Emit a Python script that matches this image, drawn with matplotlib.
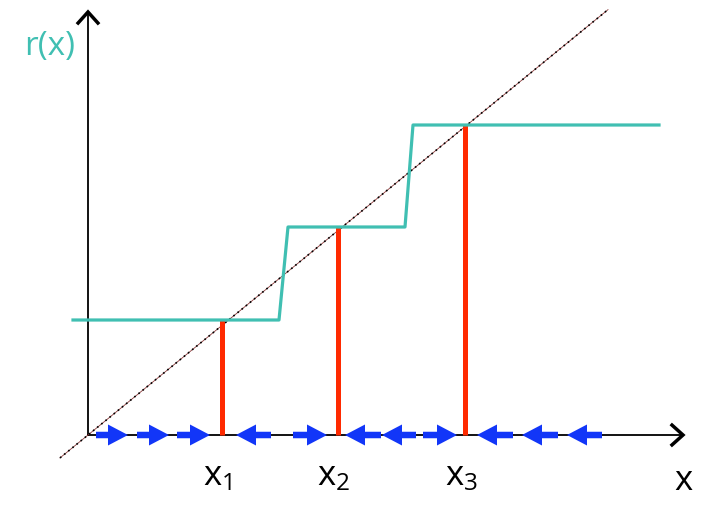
import matplotlib
matplotlib.use("Agg")
import matplotlib.pyplot as plt
import numpy as np

plt.rcParams['font.family'] = ['Open Sans', 'DejaVu Sans']
plt.rcParams['mathtext.fontset'] = 'custom'
plt.rcParams['mathtext.rm'] = 'Open Sans'

# step function r(x): vertices of the teal curve
step_x = [-15, 191, 200, 317, 325, 571]
step_y = [115, 115, 208, 208, 310, 310]

# fixed points x1, x2, x3 (red drop lines)
fixed_x = [134, 250, 377]
fixed_y = [115, 208, 310]
fixed_labels = ['$\\mathregular{x_1}$', '$\\mathregular{x_2}$', '$\\mathregular{x_3}$']

# flow arrows on the x axis: tail -> head
arrow_tail = [8, 49, 89, 183, 205, 293, 328, 335, 425, 470, 514]
arrow_head = [40, 81, 122, 148, 239, 257, 294, 369, 389, 434, 479]

# diagonal r(x) = x (slope in drawing units)
diag_x = [-28, 520]
diag_slope = 0.818

x_axis_end = 595
y_axis_end = 423

teal = '#40BFB2'
red = '#FF2A00'
blue = '#1236F8'

fig = plt.figure(figsize=(7.06, 5.05), dpi=100)
ax = fig.add_axes([0, 0, 1, 1])
ax.set_xlim(-88, 618)
ax.set_ylim(-70, 435)
ax.axis('off')

# axes lines
ax.plot([0, x_axis_end], [0, 0], color='black', lw=1.3, zorder=2)
ax.plot([0, 0], [0, y_axis_end], color='black', lw=1.3, zorder=2)
# chevron heads
hl = 11
ax.plot([x_axis_end - hl, x_axis_end, x_axis_end - hl], [hl * 0.9, 0, -hl * 0.9],
        color='black', lw=2.5, solid_joinstyle='miter', zorder=2)
ax.plot([-hl * 0.9, 0, hl * 0.9], [y_axis_end - hl, y_axis_end, y_axis_end - hl],
        color='black', lw=2.5, solid_joinstyle='miter', zorder=2)

# diagonal
dx = np.array(diag_x)
ax.plot(dx, diag_slope * dx, color='#8B3A3A', lw=0.6, zorder=3)
ax.plot(dx, diag_slope * dx, color='black', lw=1.2, ls=(0, (1, 2.2)), zorder=3)

# step function
ax.plot(step_x, step_y, color=teal, lw=2.3, zorder=4)

# red lines
for fx, fy in zip(fixed_x, fixed_y):
    ax.plot([fx, fx], [0, fy], color=red, lw=3.6, zorder=3, solid_capstyle='butt')

# blue arrows
for t, h in zip(arrow_tail, arrow_head):
    ax.arrow(t, 0, h - t, 0, width=6.5, head_width=21, head_length=20,
             length_includes_head=True, color=blue, lw=0, zorder=5)

# labels
for fx, lab in zip(fixed_x, fixed_labels):
    ax.text(fx - 4, -41, lab, fontsize=25, ha='center', va='center', color='black')
ax.text(595, -46, 'x', fontsize=25, ha='center', va='center', color='black')
ax.text(-38, 389, 'r(x)', fontsize=24, ha='center', va='center', color=teal)

fig.savefig('out.png', dpi=100)
